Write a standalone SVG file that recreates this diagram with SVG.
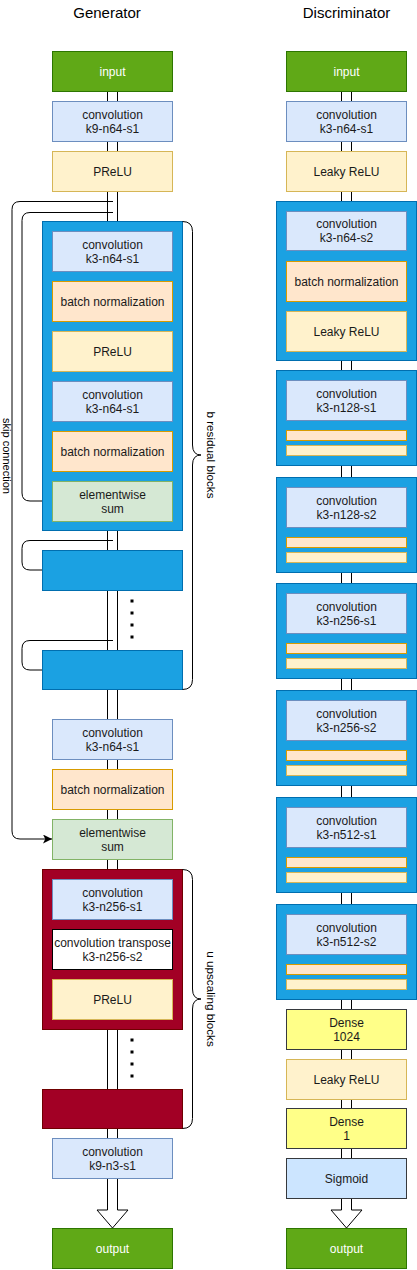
<svg xmlns="http://www.w3.org/2000/svg" width="417" height="1270" viewBox="0 0 417 1270">
<defs>
<style>
text{font-family:"Liberation Sans",Arial,sans-serif;font-size:12px;fill:#1a1a1a;text-anchor:middle}
.title{font-size:15px;fill:#000}
.side{font-size:11px;fill:#000}
.side2{font-size:11.7px;fill:#000}
.w{fill:#ffffff}
.io{fill:#60a917;stroke:#2d7600}
.conv{fill:#dae8fc;stroke:#6c8ebf}
.act{fill:#fff2cc;stroke:#d6b656}
.bn{fill:#ffe6cc;stroke:#d79b00}
.sum{fill:#d5e8d4;stroke:#82b366}
.blk{fill:#1ba1e2;stroke:#006eaf}
.up{fill:#a20025;stroke:#6f0000}
.tr{fill:#ffffff;stroke:#000}
.dense{fill:#ffff88;stroke:#36393d}
.sig{fill:#cce5ff;stroke:#36393d}
.ln{fill:none;stroke:#000;stroke-width:1}
.shaft{fill:#fff;stroke:#000;stroke-width:1}
.dot{fill:#000}
</style>
<marker id="ah" viewBox="0 0 10 10" refX="10" refY="5" markerWidth="9" markerHeight="9" markerUnits="userSpaceOnUse" orient="auto">
<path d="M0,0 L10,5 L0,10 L2.5,5 Z" fill="#000"/>
</marker>
</defs>
<rect width="417" height="1270" fill="#fff"/>
<text class="title" x="107" y="17.5">Generator</text>
<text class="title" x="346.5" y="17.5">Discriminator</text>

<g id="connectors">
<path class="shaft" d="M107.5,91 V1210 H97 L112.5,1228 L128,1210 H117.5 V91"/>
<path class="shaft" d="M341.5,91 V1210 H331 L346.5,1228 L362,1210 H351.5 V91"/>
<path class="ln" d="M113,201.5 H20 Q12,201.5 12,209.5 V831 Q12,839 20,839 H52" marker-end="url(#ah)"/>
<path class="ln" d="M113,212.5 H30 Q22,212.5 22,220.5 V493 Q22,501 30,501 H52" marker-end="url(#ah)"/>
<path class="ln" d="M113,540.5 H30 Q22,540.5 22,548.5 V562 Q22,570 30,570 H52" marker-end="url(#ah)"/>
<path class="ln" d="M113,640.5 H30 Q22,640.5 22,648.5 V662 Q22,670 30,670 H52" marker-end="url(#ah)"/>
</g>

<g id="g-input"><rect class="io" x="52.5" y="51.5" width="120" height="40"/><text class="w" x="112.5" y="76">input</text></g>
<g id="g-conv1"><rect class="conv" x="52.5" y="101.5" width="120" height="40"/><text x="112.5" y="118.5">convolution</text><text x="112.5" y="132.5">k9-n64-s1</text></g>
<g id="g-prelu1"><rect class="act" x="52.5" y="151.5" width="120" height="40"/><text x="112.5" y="176">PReLU</text></g>

<g id="g-res1">
<rect class="blk" x="42.5" y="221.5" width="140" height="309"/>
<rect class="conv" x="52.5" y="231.5" width="120" height="40"/><text x="112.5" y="248.5">convolution</text><text x="112.5" y="262.5">k3-n64-s1</text>
<rect class="bn" x="52.5" y="281.5" width="120" height="40"/><text x="112.5" y="306">batch normalization</text>
<rect class="act" x="52.5" y="331.5" width="120" height="40"/><text x="112.5" y="356">PReLU</text>
<rect class="conv" x="52.5" y="381.5" width="120" height="40"/><text x="112.5" y="398.5">convolution</text><text x="112.5" y="412.5">k3-n64-s1</text>
<rect class="bn" x="52.5" y="431.5" width="120" height="40"/><text x="112.5" y="456">batch normalization</text>
<rect class="sum" x="52.5" y="481.5" width="120" height="40"/><text x="112.5" y="498.5">elementwise</text><text x="112.5" y="512.5">sum</text>
</g>
<g id="g-res2"><rect class="blk" x="42.5" y="550.5" width="140" height="40"/></g>
<g id="g-resdots"><rect class="dot" x="130.5" y="599.5" width="3" height="3"/><rect class="dot" x="130.5" y="611.5" width="3" height="3"/><rect class="dot" x="130.5" y="623.5" width="3" height="3"/><rect class="dot" x="130.5" y="635.5" width="3" height="3"/></g>
<g id="g-res3"><rect class="blk" x="42.5" y="650.5" width="140" height="39"/></g>
<g id="g-brace1"><path class="ln" d="M182.5,221.5 Q192.5,221.5 192.5,231.5 V445 Q192.5,455 201,455 Q192.5,455 192.5,465 V679.5 Q192.5,689.5 182.5,689.5"/><text class="side2" transform="translate(207,455) rotate(90)" x="0" y="0">b residual blocks</text></g>
<g id="g-skiplabel"><text class="side" transform="translate(2.5,456) rotate(90)" x="0" y="0">skip connection</text></g>

<g id="g-conv2"><rect class="conv" x="52.5" y="719.5" width="120" height="40"/><text x="112.5" y="736.5">convolution</text><text x="112.5" y="750.5">k3-n64-s1</text></g>
<g id="g-bn2"><rect class="bn" x="52.5" y="769.5" width="120" height="40"/><text x="112.5" y="794">batch normalization</text></g>
<g id="g-sum2"><rect class="sum" x="52.5" y="819.5" width="120" height="40"/><text x="112.5" y="836.5">elementwise</text><text x="112.5" y="850.5">sum</text></g>

<g id="g-up1">
<rect class="up" x="42.5" y="869.5" width="140" height="160"/>
<rect class="conv" x="52.5" y="879.5" width="120" height="40"/><text x="112.5" y="896.5">convolution</text><text x="112.5" y="910.5">k3-n256-s1</text>
<rect class="tr" x="52.5" y="929.5" width="120" height="40"/><text x="112.5" y="946.5">convolution transpose</text><text x="112.5" y="960.5">k3-n256-s2</text>
<rect class="act" x="52.5" y="979.5" width="120" height="40"/><text x="112.5" y="1004">PReLU</text>
</g>
<g id="g-updots"><rect class="dot" x="130.5" y="1038.5" width="3" height="3"/><rect class="dot" x="130.5" y="1050.5" width="3" height="3"/><rect class="dot" x="130.5" y="1062.5" width="3" height="3"/><rect class="dot" x="130.5" y="1074.5" width="3" height="3"/></g>
<g id="g-up2"><rect class="up" x="42.5" y="1089.5" width="140" height="39"/></g>
<g id="g-brace2"><path class="ln" d="M182.5,869.5 Q192.5,869.5 192.5,879.5 V989 Q192.5,999 201,999 Q192.5,999 192.5,1009 V1118.5 Q192.5,1128.5 182.5,1128.5"/><text class="side2" transform="translate(207,999) rotate(90)" x="0" y="0">u upscaling blocks</text></g>
<g id="g-conv3"><rect class="conv" x="52.5" y="1138.5" width="120" height="40"/><text x="112.5" y="1155.5">convolution</text><text x="112.5" y="1169.5">k9-n3-s1</text></g>
<g id="g-output"><rect class="io" x="52.5" y="1228.5" width="120" height="40"/><text class="w" x="112.5" y="1253">output</text></g>

<g id="d-input"><rect class="io" x="286.5" y="51.5" width="120" height="40"/><text class="w" x="346.5" y="76">input</text></g>
<g id="d-conv1"><rect class="conv" x="286.5" y="101.5" width="120" height="40"/><text x="346.5" y="118.5">convolution</text><text x="346.5" y="132.5">k3-n64-s1</text></g>
<g id="d-lrelu1"><rect class="act" x="286.5" y="151.5" width="120" height="40"/><text x="346.5" y="176">Leaky ReLU</text></g>
<g id="d-blk1">
<rect class="blk" x="276.5" y="201.5" width="140" height="159"/>
<rect class="conv" x="286.5" y="211.5" width="120" height="39"/><text x="346.5" y="228">convolution</text><text x="346.5" y="242">k3-n64-s2</text>
<rect class="bn" x="286.5" y="261.5" width="120" height="40"/><text x="346.5" y="286">batch normalization</text>
<rect class="act" x="286.5" y="311.5" width="120" height="40"/><text x="346.5" y="336">Leaky ReLU</text>
</g>
<g id="d-blk2"><rect class="blk" x="276.5" y="370.5" width="140" height="95"/><rect class="conv" x="286.5" y="380.5" width="120" height="40"/><text x="346.5" y="397.5">convolution</text><text x="346.5" y="411.5">k3-n128-s1</text><rect class="bn" x="286.5" y="430.5" width="120" height="10"/><rect class="act" x="286.5" y="445.5" width="120" height="10"/></g>
<g id="d-blk3"><rect class="blk" x="276.5" y="477.5" width="140" height="95"/><rect class="conv" x="286.5" y="487.5" width="120" height="40"/><text x="346.5" y="504.5">convolution</text><text x="346.5" y="518.5">k3-n128-s2</text><rect class="bn" x="286.5" y="537.5" width="120" height="10"/><rect class="act" x="286.5" y="552.5" width="120" height="10"/></g>
<g id="d-blk4"><rect class="blk" x="276.5" y="583.5" width="140" height="95"/><rect class="conv" x="286.5" y="593.5" width="120" height="40"/><text x="346.5" y="610.5">convolution</text><text x="346.5" y="624.5">k3-n256-s1</text><rect class="bn" x="286.5" y="643.5" width="120" height="10"/><rect class="act" x="286.5" y="658.5" width="120" height="10"/></g>
<g id="d-blk5"><rect class="blk" x="276.5" y="690.5" width="140" height="95"/><rect class="conv" x="286.5" y="700.5" width="120" height="40"/><text x="346.5" y="717.5">convolution</text><text x="346.5" y="731.5">k3-n256-s2</text><rect class="bn" x="286.5" y="750.5" width="120" height="10"/><rect class="act" x="286.5" y="765.5" width="120" height="10"/></g>
<g id="d-blk6"><rect class="blk" x="276.5" y="797.5" width="140" height="95"/><rect class="conv" x="286.5" y="807.5" width="120" height="40"/><text x="346.5" y="824.5">convolution</text><text x="346.5" y="838.5">k3-n512-s1</text><rect class="bn" x="286.5" y="857.5" width="120" height="10"/><rect class="act" x="286.5" y="872.5" width="120" height="10"/></g>
<g id="d-blk7"><rect class="blk" x="276.5" y="904.5" width="140" height="95"/><rect class="conv" x="286.5" y="914.5" width="120" height="40"/><text x="346.5" y="931.5">convolution</text><text x="346.5" y="945.5">k3-n512-s2</text><rect class="bn" x="286.5" y="964.5" width="120" height="10"/><rect class="act" x="286.5" y="979.5" width="120" height="10"/></g>
<g id="d-dense1"><rect class="dense" x="286.5" y="1009.5" width="120" height="40"/><text x="346.5" y="1026.5">Dense</text><text x="346.5" y="1040.5">1024</text></g>
<g id="d-lrelu2"><rect class="act" x="286.5" y="1059.5" width="120" height="40"/><text x="346.5" y="1084">Leaky ReLU</text></g>
<g id="d-dense2"><rect class="dense" x="286.5" y="1108.5" width="120" height="40"/><text x="346.5" y="1125.5">Dense</text><text x="346.5" y="1139.5">1</text></g>
<g id="d-sigmoid"><rect class="sig" x="286.5" y="1158.5" width="120" height="40"/><text x="346.5" y="1183">Sigmoid</text></g>
<g id="d-output"><rect class="io" x="286.5" y="1228.5" width="120" height="40"/><text class="w" x="346.5" y="1253">output</text></g>
</svg>
